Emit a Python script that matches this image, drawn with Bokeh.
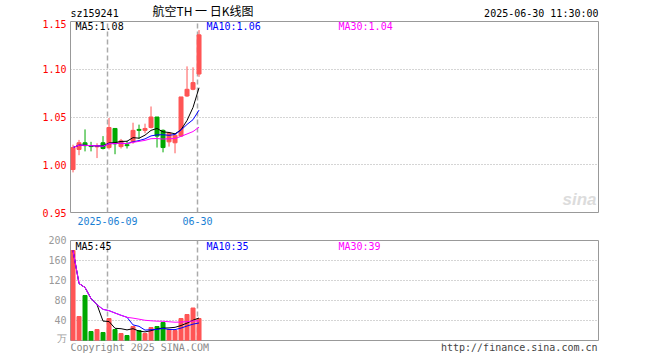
from bokeh.plotting import figure
from bokeh.layouts import column
from bokeh.models import Range1d, FixedTicker, Label, ColumnDataSource, PrintfTickFormatter
from bokeh.embed import file_html
from bokeh.resources import INLINE

# ---------------- data ----------------
dates = ["2025-05-29", "2025-05-30", "2025-06-03", "2025-06-04", "2025-06-05", "2025-06-06",
         "2025-06-09", "2025-06-10", "2025-06-11", "2025-06-12", "2025-06-13", "2025-06-16",
         "2025-06-17", "2025-06-18", "2025-06-19", "2025-06-20", "2025-06-23", "2025-06-24",
         "2025-06-25", "2025-06-26", "2025-06-27", "2025-06-30"]
opens = [0.995, 1.016, 1.023, 1.020, 1.0188, 1.023, 1.018, 1.038, 1.019, 1.021, 1.024,
         1.037, 1.036, 1.039, 1.050, 1.036, 1.024, 1.023, 1.030, 1.072, 1.079, 1.095]
highs = [1.021, 1.026, 1.037, 1.024, 1.0225, 1.030, 1.049, 1.038, 1.027, 1.025, 1.044,
         1.042, 1.043, 1.061, 1.050, 1.037, 1.034, 1.032, 1.071, 1.103, 1.102, 1.141]
lows = [0.992, 1.010, 1.014, 1.014, 1.007, 1.016, 1.016, 1.011, 1.017, 1.017, 1.022,
        1.027, 1.033, 1.038, 1.018, 1.013, 1.019, 1.012, 1.029, 1.071, 1.078, 1.092]
closes = [1.018, 1.023, 1.020, 1.019, 1.019, 1.017, 1.039, 1.022, 1.025, 1.020, 1.036,
          1.036, 1.038, 1.050, 1.030, 1.018, 1.033, 1.031, 1.071, 1.079, 1.086, 1.136]
volumes = [180, 48, 90, 18, 22, 16, 44, 22, 14, 10, 28, 20, 14, 26, 28, 36, 22, 20, 44, 52, 65, 44]

price_ticks = [0.95, 1.00, 1.05, 1.10, 1.15]
price_grid = [1.00, 1.05, 1.10]
vol_ticks = [0, 40, 80, 120, 160, 200]
vol_grid = [40, 80, 120, 160]
date_tick_dates = ["2025-06-09", "2025-06-30"]
date_tick_labels = ["2025-06-09", "06-30"]

code = "sz159241"
title_text = "航空TH 一 日K线图"
stamp = "2025-06-30 11:30:00"
copyright_text = "Copyright 2025 SINA.COM"
url_text = "http://finance.sina.com.cn"


def moving_avg(vals, n):
    out = []
    for i in range(len(vals)):
        w = vals[max(0, i - n + 1): i + 1]
        out.append(sum(w) / len(w))
    return out


RED = "#ff5555"
GREEN = "#00a800"
MONO = "DejaVu Sans Mono"
CJK = "Noto Sans CJK SC"
W = 652

idx = list(range(len(dates)))
colors = [RED if c >= o else GREEN for o, c in zip(opens, closes)]
src = ColumnDataSource(dict(
    x=idx, high=highs, low=lows,
    top=[max(o, c) for o, c in zip(opens, closes)],
    bottom=[min(o, c) for o, c in zip(opens, closes)],
    vol=volumes, color=colors))

ma5 = moving_avg(closes, 5)
ma10 = moving_avg(closes, 10)
ma30 = moving_avg(closes, 30)
vma5 = moving_avg(volumes, 5)
vma10 = moving_avg(volumes, 10)
vma30 = moving_avg(volumes, 30)

tick_pos = [dates.index(d) - 0.25 for d in date_tick_dates]

x_range = Range1d(-0.42, 87.58)


def text_strip(height):
    f = figure(width=W, height=height, x_range=Range1d(0, 1), y_range=Range1d(0, height),
               output_backend="svg", toolbar_location=None,
               min_border_left=70, min_border_right=54, min_border_top=0, min_border_bottom=0)
    f.outline_line_color = None
    f.background_fill_color = "white"
    f.border_fill_color = "white"
    f.xaxis.visible = False
    f.yaxis.visible = False
    f.xgrid.visible = False
    f.ygrid.visible = False
    return f


# ---------------- header strip (frame spans x 70..598) ----------------
HH = 19
header = text_strip(HH)
header.add_layout(Label(x=0, y=HH - 13, x_units="screen", y_units="screen", text=code,
                        text_font=MONO, text_font_size="10px", text_color="black",
                        text_baseline="middle"))
header.add_layout(Label(x=82, y=HH - 10.3, x_units="screen", y_units="screen", text=title_text,
                        text_font=CJK, text_font_size="12px", text_color="black",
                        text_baseline="middle"))
header.add_layout(Label(x=528, y=HH - 13, x_units="screen", y_units="screen", text=stamp,
                        text_font=MONO, text_font_size="10px", text_color="black",
                        text_baseline="middle", text_align="right"))

# ---------------- price panel ----------------
p = figure(width=W, height=213, x_range=x_range, y_range=Range1d(0.95, 1.15),
           output_backend="svg", toolbar_location=None,
           min_border_left=70, min_border_right=54, min_border_top=2, min_border_bottom=20)
p.background_fill_color = "white"
p.border_fill_color = "white"
p.outline_line_color = "#999999"
p.outline_line_width = 1

p.ygrid.ticker = FixedTicker(ticks=price_grid)
p.ygrid.grid_line_color = "#aaaaaa"
p.ygrid.grid_line_dash = "1 2"
p.xgrid.ticker = FixedTicker(ticks=tick_pos)
p.xgrid.grid_line_color = "#aaaaaa"
p.xgrid.grid_line_dash = "5 3"
p.xgrid.grid_line_width = 1.5

p.yaxis.ticker = FixedTicker(ticks=price_ticks)
p.yaxis.formatter = PrintfTickFormatter(format="%.2f")
p.yaxis.major_label_text_color = "#ff0000"
p.yaxis.major_label_text_font = MONO
p.yaxis.major_label_text_font_size = "10px"
p.yaxis.axis_line_color = None
p.yaxis.major_tick_line_color = None
p.yaxis.minor_tick_line_color = None
p.yaxis.major_tick_out = 0
p.yaxis.major_tick_in = 0
p.yaxis.major_label_standoff = 4

p.xaxis.ticker = FixedTicker(ticks=tick_pos)
p.xaxis.major_label_overrides = {t: l for t, l in zip(tick_pos, date_tick_labels)}
p.xaxis.major_label_text_color = "#1a7fd4"
p.xaxis.major_label_text_font = MONO
p.xaxis.major_label_text_font_size = "10px"
p.xaxis.axis_line_color = None
p.xaxis.major_tick_line_color = None
p.xaxis.minor_tick_line_color = None
p.xaxis.major_tick_out = 0
p.xaxis.major_tick_in = 0
p.xaxis.major_label_standoff = 4

p.segment(x0="x", y0="low", x1="x", y1="high", line_color="color", line_width=1, source=src)
p.vbar(x="x", width=0.667, top="top", bottom="bottom", fill_color="color",
       line_color="color", line_width=1, source=src)

p.line(idx, ma5, line_color="black", line_width=1)
p.line(idx, ma10, line_color="#0000ff", line_width=1)
p.line(idx, ma30, line_color="#ff00ff", line_width=1)

# watermark
p.add_layout(Label(x=526, y=4, x_units="screen", y_units="screen", text="sina",
                   text_font="Liberation Sans", text_font_style="bold italic",
                   text_font_size="17px", text_color="#dcdcdc", text_align="right",
                   text_baseline="bottom"))

legend_specs = [(5, "MA5:%.2f" % ma5[-1], "black"),
                (136, "MA10:%.2f" % ma10[-1], "#0000ff"),
                (268, "MA30:%.2f" % ma30[-1], "#ff00ff")]
for lx, txt, col in legend_specs:
    p.add_layout(Label(x=lx, y=186, x_units="screen", y_units="screen", text=txt,
                       text_font=MONO, text_font_size="10px", text_color=col,
                       text_baseline="middle"))

# ---------------- volume panel ----------------
v = figure(width=W, height=111, x_range=x_range, y_range=Range1d(0, 200),
           output_backend="svg", toolbar_location=None,
           min_border_left=70, min_border_right=54, min_border_top=8, min_border_bottom=3)
v.background_fill_color = "white"
v.border_fill_color = "white"
v.outline_line_color = "#999999"
v.outline_line_width = 1
v.xaxis.visible = False

v.ygrid.ticker = FixedTicker(ticks=vol_grid)
v.ygrid.grid_line_color = "#aaaaaa"
v.ygrid.grid_line_dash = "1 2"
v.xgrid.ticker = FixedTicker(ticks=tick_pos)
v.xgrid.grid_line_color = "#aaaaaa"
v.xgrid.grid_line_dash = "5 3"
v.xgrid.grid_line_width = 1.5

v.yaxis.ticker = FixedTicker(ticks=vol_ticks)
v.yaxis.major_label_overrides = {0: "万"}
v.yaxis.major_label_text_color = "#999999"
v.yaxis.major_label_text_font = MONO
v.yaxis.major_label_text_font_size = "10px"
v.yaxis.axis_line_color = None
v.yaxis.major_tick_line_color = None
v.yaxis.minor_tick_line_color = None
v.yaxis.major_tick_out = 0
v.yaxis.major_tick_in = 0
v.yaxis.major_label_standoff = 4

v.vbar(x="x", width=0.667, top="vol", bottom=0, fill_color="color",
       line_color="color", line_width=1, source=src)
v.line(idx, vma5, line_color="black", line_width=1)
v.line(idx, vma10, line_color="#0000ff", line_width=1)
v.line(idx, vma30, line_color="#ff00ff", line_width=1)

vlegend = [(5, "MA5:%d" % round(vma5[-1]), "black"),
           (136, "MA10:%d" % round(vma10[-1]), "#0000ff"),
           (268, "MA30:%d" % round(vma30[-1]), "#ff00ff")]
for lx, txt, col in vlegend:
    v.add_layout(Label(x=lx, y=94, x_units="screen", y_units="screen", text=txt,
                       text_font=MONO, text_font_size="10px", text_color=col,
                       text_baseline="middle"))

# ---------------- footer strip (frame spans x 70..598) ----------------
FH = 15
footer = text_strip(FH)
footer.add_layout(Label(x=0, y=FH - 4, x_units="screen", y_units="screen",
                        text=copyright_text, text_font=MONO, text_font_size="10px",
                        text_color="#888888", text_baseline="middle"))
footer.add_layout(Label(x=527, y=FH - 4, x_units="screen", y_units="screen",
                        text=url_text, text_font=MONO, text_font_size="10px",
                        text_color="#444444", text_baseline="middle", text_align="right"))

layout = column(header, p, v, footer)
open("out.html", "w").write(file_html(layout, INLINE))
